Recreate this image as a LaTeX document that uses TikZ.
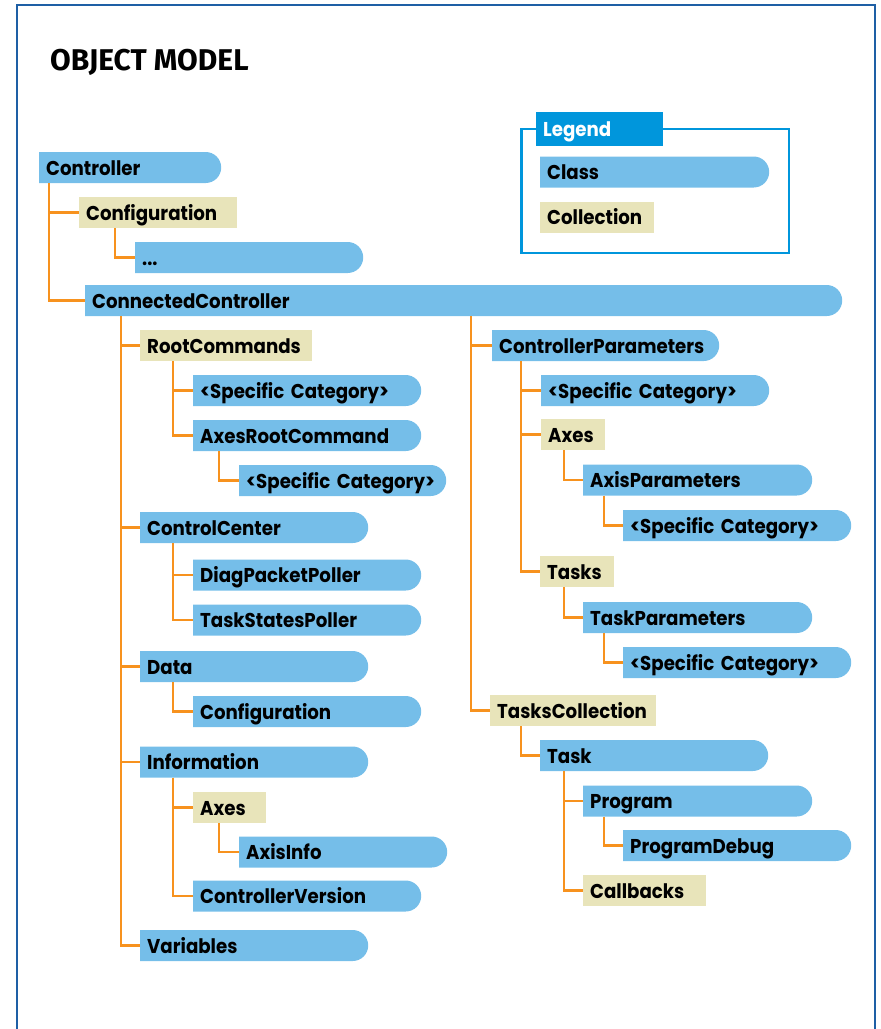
\documentclass[tikz,border=0pt]{standalone}
\usepackage{fontspec}
\setmainfont{Poppins}[FakeStretch=0.91]
\newfontfamily\titlefont{Fira Sans}
\definecolor{classblue}{RGB}{117,190,233}
\definecolor{collbeige}{RGB}{232,228,186}
\definecolor{linkorange}{RGB}{247,146,30}
\definecolor{frameblue}{RGB}{30,95,165}
\definecolor{legendblue}{RGB}{0,150,220}
\usepackage{tikz}
\usetikzlibrary{
	positioning,
	calc
}
\tikzset{
  % node
	omnode/.style   ={anchor=west, minimum height=31pt, inner xsep=7pt, inner ysep=0pt,
	                  text width=#1pt-14pt, text height=16pt, text depth=1pt, align=left,
	                  font=\bfseries\fontsize{20}{20}\selectfont},
	omclass/.style  ={omnode=#1, path picture={\fill[classblue]
	                  (path picture bounding box.south west) -- (path picture bounding box.north west)
	                  -- ([xshift=-15.5pt]path picture bounding box.north east)
	                  arc[start angle=90, end angle=-90, radius=15.5pt] -- cycle;}}, % class
	omcoll/.style   ={omnode=#1, fill=collbeige}, % collection
	omtab/.style    ={omnode=#1, fill=legendblue, text=white, minimum height=34pt},
  % line
	omlink/.style   ={linkorange, line width=2.2pt},
	omframe/.style  ={frameblue, line width=2.6pt},
	omlegend/.style ={legendblue, line width=2.6pt}
}
\begin{document}
\begin{tikzpicture}[x=1pt,y=-1pt]
	\useasboundingbox (0,0) rectangle (881,1029);
	\draw[omframe] (17,1029) |- (875,5) -- (875,1029);
	\node[anchor=base west, inner sep=0pt, font=\titlefont\bfseries\fontsize{30}{30}\selectfont] (title) at (50,70) {OBJECT MODEL};
	% legend
	\draw[omlegend] (521.5,129) rectangle (789,253);
	\node[omtab=127] (legtab) at (536,129) {Legend};
	\node[omclass=229] (legclass) at (540,172) {Class};
	\node[omcoll=114] (legcoll) at (540,217) {Collection};
	% left tree
	\node[omclass=182] (ctrl) at (39,167.5) {Controller};
	\node[omcoll=158] (cfg) at (79,212.5) {Configuration};
	\node[omclass=228] (cfgitem) at (135,257.5) {...};
	\node[omclass=757] (cc) at (85,300.5) {ConnectedController};
	\node[omcoll=172] (rootcmd) at (140,345.5) {RootCommands};
	\node[omclass=228] (rcspec) at (193,390.5) {<Specific Category>};
	\node[omclass=228] (axesrc) at (193,435.5) {AxesRootCommand};
	\node[omclass=207] (arcspec) at (239,480.5) {<Specific Category>};
	\node[omclass=228] (ctrlcenter) at (140,527.5) {ControlCenter};
	\node[omclass=228] (diag) at (193,575) {DiagPacketPoller};
	\node[omclass=228] (tsp) at (193,620) {TaskStatesPoller};
	\node[omclass=228] (data) at (140,666.5) {Data};
	\node[omclass=228] (datacfg) at (193,711.5) {Configuration};
	\node[omclass=228] (info) at (140,762) {Information};
	\node[omcoll=73] (infoaxes) at (193,807.5) {Axes};
	\node[omclass=208] (axisinfo) at (239,852) {AxisInfo};
	\node[omclass=228] (ctrlver) at (193,896) {ControllerVersion};
	\node[omclass=228] (vars) at (140,945.5) {Variables};
	% right tree
	\node[omclass=227] (cparams) at (492,345.5) {ControllerParameters};
	\node[omclass=228] (cpspec) at (541,390.5) {<Specific Category>};
	\node[omcoll=64] (cpaxes) at (541,434.5) {Axes};
	\node[omclass=229] (axisparams) at (583,480) {AxisParameters};
	\node[omclass=228] (apspec) at (623,525.5) {<Specific Category>};
	\node[omcoll=74] (cptasks) at (540,571.5) {Tasks};
	\node[omclass=229] (taskparams) at (583,617.5) {TaskParameters};
	\node[omclass=228] (tpspec) at (623,662.5) {<Specific Category>};
	\node[omcoll=166] (taskscoll) at (490,710.5) {TasksCollection};
	\node[omclass=228] (task) at (540,755.5) {Task};
	\node[omclass=229] (prog) at (583,801) {Program};
	\node[omclass=228] (progdbg) at (623,845.5) {ProgramDebug};
	\node[omcoll=123] (callbacks) at (583,890.5) {Callbacks};
	% links
	\foreach \p/\c/\s in {ctrl/cfg/10, ctrl/cc/10, cfg/cfgitem/36,
		cc/rootcmd/36, cc/ctrlcenter/36, cc/data/36, cc/info/36, cc/vars/36,
		rootcmd/rcspec/33, rootcmd/axesrc/33, axesrc/arcspec/26,
		ctrlcenter/diag/33, ctrlcenter/tsp/33, data/datacfg/33,
		info/infoaxes/33, info/ctrlver/33, infoaxes/axisinfo/26,
		cc/cparams/386, cc/taskscoll/386,
		cparams/cpspec/29, cparams/cpaxes/29, cparams/cptasks/29,
		cpaxes/axisparams/23, axisparams/apspec/21,
		cptasks/taskparams/24, taskparams/tpspec/21,
		taskscoll/task/31, task/prog/24, task/callbacks/24, prog/progdbg/21}
		\draw[omlink] ([xshift=\s]\p.south west) |- (\c.west);
\end{tikzpicture}
\end{document}
